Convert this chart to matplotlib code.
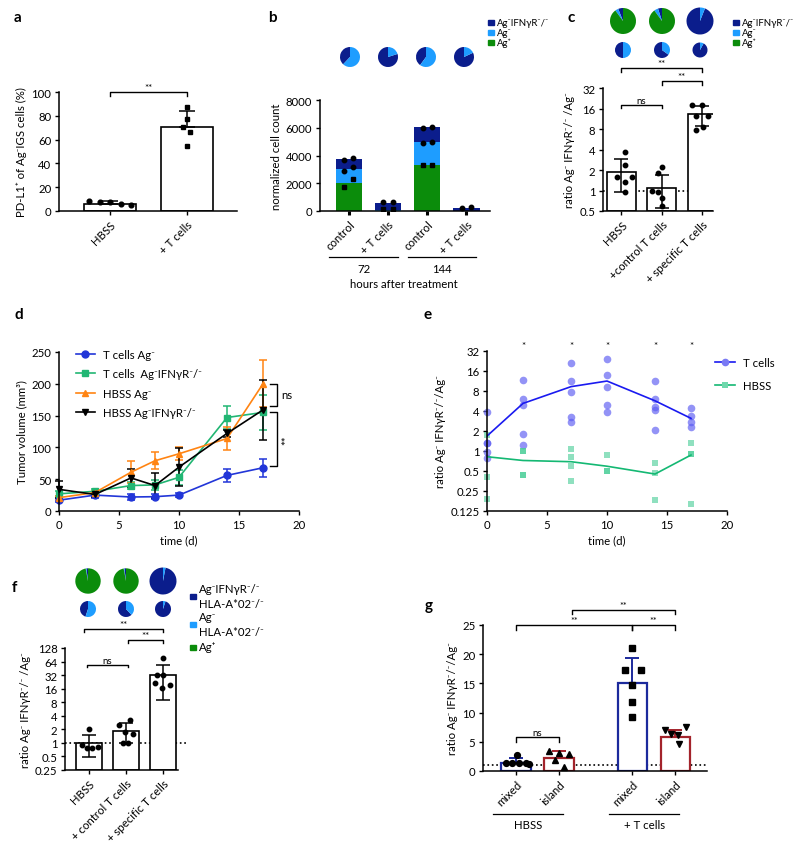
import matplotlib
matplotlib.use("Agg")
import matplotlib.pyplot as plt
from matplotlib.lines import Line2D
from matplotlib.patches import Rectangle
from matplotlib.ticker import FixedLocator, NullLocator

plt.rcParams['font.family'] = ['Lato', 'DejaVu Sans']
plt.rcParams['font.size'] = 8.2
plt.rcParams['axes.linewidth'] = 1.1
plt.rcParams['xtick.major.width'] = 1.0
plt.rcParams['ytick.major.width'] = 1.0
plt.rcParams['xtick.major.size'] = 3
plt.rcParams['ytick.major.size'] = 3
plt.rcParams['xtick.major.pad'] = 2.5
plt.rcParams['ytick.major.pad'] = 2.5

DARK = '#0b1d8c'
LIGHT = '#1e9dff'
GREEN = '#0b8c0b'
KO = 'Ag\u207bIFN\u03b3R\u207b/\u207b'
RATIO = 'ratio Ag\u207b IFN\u03b3R\u207b/\u207b /Ag\u207b'

# ---- panel a
a_groups = ['HBSS', '+ T cells']
a_means = [6, 71]
a_sd = [2, 13]
a_pts = [[8, 7.5, 7.5, 5.5, 5], [87, 77, 71, 66, 55]]
a_off = [[-0.27, -0.13, 0, 0.14, 0.27], [0, 0, -0.05, 0.04, 0]]

# ---- panel b
b_groups = ['control', '+ T cells', 'control', '+ T cells']
b_green = [2000, 0, 3300, 0]
b_light = [1050, 100, 1700, 30]
b_dark = [700, 500, 1050, 220]
b_pts = [[1700, 2300, 2900, 3200, 3650, 3850], [620, 620, 120, 120],
         [6000, 6050, 4900, 5000, 3300, 3320], [210, 260]]
b_off = [[-0.13, 0.11, -0.13, 0.11, -0.13, 0.11], [-0.12, 0.12, -0.12, 0.12],
         [-0.12, 0.12, -0.12, 0.12, -0.12, 0.12], [-0.12, 0.12]]
b_mark = [['s', 's', 'o', 'o', 'o', 'o'], ['o', 'o', 's', 's'],
          ['o', 'o', 'o', 'o', 's', 's'], ['o', 'o']]
b_hours = ['72', '144']
b_pie_dark = [0.38, 0.8, 0.4, 0.82]
b_pie_light = [0.62, 0.2, 0.6, 0.18]

# ---- panel c
c_groups = ['HBSS', '+control T cells', '+ specific T cells']
c_means = [1.9, 1.1, 13.1]
c_lo = [0.96, 0.55, 8.9]
c_hi = [2.9, 1.7, 17.4]
c_pts = [[3.7, 2.4, 1.6, 1.6, 1.35, 0.96], [2.25, 1.8, 1.0, 0.96, 0.77, 0.59],
         [17.8, 17.8, 12.4, 12.4, 7.7, 8.7]]
c_off = [[0.1, 0.1, -0.1, 0.27, 0.1, 0.1], [0.02, -0.1, -0.25, -0.1, 0.02, 0.02],
         [-0.25, 0, 0.15, -0.15, -0.15, 0.03]]
c_big = [[0.06, 0.04, 0.90], [0.05, 0.05, 0.90], [0.94, 0.06, 0.0]]   # dark, light, green
c_small = [[0.5, 0.5, 0], [0.65, 0.35, 0], [0.92, 0.08, 0]]

# ---- panel d
d_time = [0, 3, 6, 8, 10, 14, 17]
d_t_ag = [17, 25, 22, 22.5, 25, 56, 68]
d_t_ag_sd = [3, 5, 4, 4, 3, 10, 14]
d_t_ko = [27, 31, 40, 41, 53, 147, 155]
d_t_ko_sd = [4, 3, 5, 8, 12, 18, 27]
d_h_ag = [21, 29, 61, 79, 90, 114, 200]
d_h_ag_sd = [3, 3, 17, 13, 10, 18, 37]
d_h_ko = [34, 26, 52, 40, 69, 122, 159]
d_h_ko_sd = [13, 4, 14, 19, 30, 5, 47]

# ---- panel e
e_time = [0, 3, 7, 10, 14, 17]
e_t_pts = [[3.9, 1.3, 1.3, 0.97, 0.78], [11.7, 6.0, 5.0, 1.78, 1.23],
           [20.8, 11.5, 7.8, 3.3, 2.77], [24.5, 13.9, 9.3, 4.9, 3.8],
           [11.5, 6.0, 4.6, 4.1, 2.05], [4.5, 3.4, 2.77, 2.3]]
e_t_mean = [1.68, 5.2, 9.3, 11.3, 5.7, 3.1]
e_h_pts = [[1.72, 0.41, 0.19], [1.0, 1.0, 0.43, 0.43], [1.06, 0.81, 0.59, 0.35],
           [0.86, 0.5, 0.5], [0.67, 0.46, 0.18], [1.34, 0.89, 0.89, 0.16]]
e_h_mean = [0.82, 0.72, 0.69, 0.59, 0.45, 0.87]
e_star_t = [3, 7, 10, 14, 17]

# ---- panel f
f_groups = ['HBSS', '+ control T cells', '+ specific T cells']
f_means = [1.0, 1.8, 31.7]
f_lo = [0.49, 0.97, 8.8]
f_hi = [1.47, 2.7, 55]
f_pts = [[2.0, 0.89, 0.77, 0.77, 0.8], [3.2, 2.46, 1.75, 1.6, 1.0, 1.0],
         [78, 33, 32, 21.7, 19, 16.6]]
f_off = [[0, -0.19, -0.05, 0.08, 0.24], [0.1, -0.19, -0.03, 0.19, -0.08, 0.05],
         [0, -0.16, 0, -0.22, 0.19, -0.03]]
f_big = [[0.02, 0.01, 0.97], [0.02, 0.01, 0.97], [0.97, 0.03, 0.0]]
f_small = [[0.45, 0.55, 0], [0.62, 0.38, 0], [0.95, 0.05, 0]]

# ---- panel g
g_pos = [0, 1, 2.7, 3.7]
g_groups = ['mixed', 'island', 'mixed', 'island']
g_means = [1.43, 2.2, 15.0, 5.9]
g_sd = [0.75, 1.2, 4.4, 1.2]
g_pts = [[2.8, 1.4, 1.4, 1.4, 1.4, 1.2], [3.4, 3.0, 2.9, 1.9, 0.7],
         [21, 17.3, 17.3, 14.7, 11.9, 9.2], [7.0, 7.6, 6.3, 6.1, 4.6]]
g_off = [[0.02, -0.23, -0.09, 0.07, 0.23, 0.3], [-0.23, 0, 0.23, -0.09, 0.12],
         [0, -0.16, 0.2, 0, 0, 0], [-0.23, 0.26, -0.09, 0.07, 0.09]]
g_mark = ['o', '^', 's', 'v']
g_edge = ['#1c2a9c', '#a3232b', '#1c2a9c', '#a3232b']
g_treat = ['HBSS', '+ T cells']

W, H = 800, 845
fig = plt.figure(figsize=(8, 8.45), dpi=100)


def px_axes(x0, y0, x1, y1):
    return fig.add_axes([x0 / W, 1 - y1 / H, (x1 - x0) / W, (y1 - y0) / H])


def clean(ax):
    ax.spines['top'].set_visible(False)
    ax.spines['right'].set_visible(False)


def bracket(ax, x1, x2, y, ylow, text, fs=7):
    ax.plot([x1, x1, x2, x2], [ylow, y, y, ylow], color='k', lw=1.0, clip_on=False)
    ax.text((x1 + x2) / 2, y, text, ha='center', va='bottom', fontsize=fs)


def pie_at(cx, cy, r, vals):
    a = px_axes(cx - r, cy - r, cx + r, cy + r)
    a.pie(vals, colors=[DARK, LIGHT, GREEN], startangle=90, counterclock=True,
          radius=1, wedgeprops=dict(linewidth=0))
    a.set_xlim(-1, 1)
    a.set_ylim(-1, 1)
    a.axis('off')


def legend_box(x, ys, labels, colors, fs=8.2):
    for yy, lab, col in zip(ys, labels, colors):
        fig.patches.append(Rectangle((x / W, 1 - (yy + 2.5) / H), 6 / W, 5 / H,
                                     transform=fig.transFigure, color=col, figure=fig))
        fig.text((x + 9) / W, 1 - yy / H, lab, va='center', fontsize=fs,
                 linespacing=1.5)


def rot_labels(ax, pos, labels):
    ax.set_xticks(pos)
    ax.set_xticklabels(labels, rotation=45, ha='right', rotation_mode='anchor')


def panel_label(x, y, s):
    fig.text(x / W, 1 - y / H, s, fontsize=11, fontweight='bold', va='center')


# ================= a
ax = px_axes(59, 93, 237, 212)
clean(ax)
xa = range(len(a_groups))
ax.bar(xa, a_means, width=0.67, color='white', edgecolor='k', lw=1.2, zorder=1)
ax.errorbar(xa, a_means, yerr=[[0, 0], a_sd], fmt='none', ecolor='k', elinewidth=1.1,
            capsize=6, capthick=1.1, zorder=2)
ax.plot([0 + o for o in a_off[0]], a_pts[0], 'o', color='k', ms=3.4, zorder=3)
ax.plot([1 + o for o in a_off[1]], a_pts[1], 's', color='k', ms=3.4, zorder=3)
ax.set_xlim(-0.66, 1.65)
ax.set_ylim(0, 100)
ax.set_yticks([0, 20, 40, 60, 80, 100])
rot_labels(ax, list(xa), a_groups)
ax.set_ylabel('PD-L1\u207a of Ag\u207bIGS cells (%)', labelpad=3)
bracket(ax, 0, 1, 100, 97, '**')
panel_label(14, 18, 'a')

# ================= b
ax = px_axes(320, 101, 490, 212)
clean(ax)
xb = range(len(b_groups))
ax.bar(xb, b_green, width=0.67, color=GREEN, lw=0)
ax.bar(xb, b_light, width=0.67, bottom=b_green, color=LIGHT, lw=0)
ax.bar(xb, b_dark, width=0.67, bottom=[g + l for g, l in zip(b_green, b_light)],
       color=DARK, lw=0)
for i in xb:
    for v, o, m in zip(b_pts[i], b_off[i], b_mark[i]):
        ax.plot(i + o, v, m, color='k', ms=3.2, zorder=3)
ax.set_xlim(-0.74, 3.6)
ax.set_ylim(0, 8000)
ax.set_yticks([0, 2000, 4000, 6000, 8000])
rot_labels(ax, list(xb), b_groups)
ax.tick_params(axis='x', width=2.2, length=3)
ax.set_ylabel('normalized cell count', labelpad=3)
tr = ax.get_xaxis_transform()
for k, lab in enumerate(b_hours):
    x0, x1 = 2 * k - 0.5, 2 * k + 1.25
    ax.plot([x0, x1], [-0.415, -0.415], color='k', lw=0.9, transform=tr, clip_on=False)
    ax.text((x0 + x1) / 2, -0.47, lab, transform=tr, ha='center', va='top')
ax.text(1.4, -0.6, 'hours after treatment', transform=tr, ha='center', va='top')
for i, cx in enumerate([350, 388, 426, 464]):
    pie_at(cx, 58, 10, [b_pie_dark[i], b_pie_light[i], 0])
legend_box(488, [23, 33, 43], [KO, 'Ag\u207b', 'Ag\u207a'], [DARK, LIGHT, GREEN], fs=6.9)
panel_label(268, 18, 'b')

# ================= c
ax = px_axes(603, 89, 713, 212)
clean(ax)
ax.set_yscale('log', base=2)
xc = range(len(c_groups))
ax.bar(xc, [m - 0.5 for m in c_means], bottom=0.5, width=0.72, color='white',
       edgecolor='k', lw=1.2, zorder=1)
ax.errorbar(xc, c_means, yerr=[[m - l for m, l in zip(c_means, c_lo)],
                               [h - m for m, h in zip(c_means, c_hi)]],
            fmt='none', ecolor='k', elinewidth=1.1, capsize=5, capthick=1.1, zorder=2)
for i in xc:
    ax.plot([i + o for o in c_off[i]], c_pts[i], 'o', color='k', ms=3.2, zorder=3)
ax.axhline(1, color='k', ls=':', lw=1.2, zorder=0)
ax.set_xlim(-0.45, 2.27)
ax.set_ylim(0.5, 32)
ax.yaxis.set_major_locator(FixedLocator([0.5, 1, 2, 4, 8, 16, 32]))
ax.yaxis.set_minor_locator(NullLocator())
ax.set_yticklabels(['0.5', '1', '2', '4', '8', '16', '32'])
rot_labels(ax, list(xc), c_groups)
ax.set_ylabel(RATIO, labelpad=3)
bracket(ax, 0, 1, 18, 16.3, 'ns')
bracket(ax, 1, 2, 40, 35, '**')
bracket(ax, 0, 2, 62, 55, '**')
for i, cx in enumerate([623, 662, 700]):
    pie_at(cx, 22, 13.5 if i == 2 else 13, c_big[i])
    pie_at(cx, 51, 7.5 if i == 2 else 8, c_small[i])
legend_box(733, [23, 33, 43], [KO, 'Ag\u207b', 'Ag\u207a'], [DARK, LIGHT, GREEN], fs=6.9)
panel_label(568, 18, 'c')

# ================= d
ax = px_axes(59, 353, 299, 512)
clean(ax)
series = [(d_t_ag, d_t_ag_sd, '#2236d8', 'o', 'T cells Ag\u207b'),
          (d_t_ko, d_t_ko_sd, '#21b673', 's', 'T cells  ' + KO),
          (d_h_ag, d_h_ag_sd, '#ff8412', '^', 'HBSS Ag\u207b'),
          (d_h_ko, d_h_ko_sd, 'k', 'v', 'HBSS ' + KO)]
handles = []
for vals, sd, col, mk, lab in series:
    ax.errorbar(d_time, vals, yerr=sd, color=col, marker=mk, ms=5, lw=1.2,
                elinewidth=1.1, capsize=3, capthick=1.1, clip_on=False)
    handles.append(Line2D([], [], color=col, marker=mk, ms=5, lw=1.2, label=lab))
ax.set_xlim(0, 20)
ax.set_ylim(0, 250)
ax.set_xticks([0, 5, 10, 15, 20])
ax.set_yticks([0, 50, 100, 150, 200, 250])
ax.set_xlabel('time (d)', labelpad=3)
ax.set_ylabel('Tumor volume (mm\u00b3)', labelpad=3)
ax.legend(handles=handles, loc='upper left', bbox_to_anchor=(0.05, 1.05), frameon=False,
          handlelength=1.7, handletextpad=0.7, labelspacing=0.75, borderaxespad=0)
for x1, y1, y2, lab, rot in [(18.2, 200, 165, 'ns', 0), (18.2, 155, 71, '**', 90)]:
    ax.plot([17.6, x1, x1, 17.6], [y1, y1, y2, y2], color='k', lw=1.0, clip_on=False)
    ax.text(x1 + 0.35, (y1 + y2) / 2, lab, va='center', ha='left', rotation=rot)
panel_label(14, 315, 'd')

# ================= e
ax = px_axes(487, 352, 727, 512)
clean(ax)
ax.set_yscale('log', base=2)
for t, pts in zip(e_time, e_t_pts):
    ax.plot([t] * len(pts), pts, 'o', color='#5a5af2', alpha=0.65, ms=5.5, mew=0,
            clip_on=False)
for t, pts in zip(e_time, e_h_pts):
    ax.plot([t] * len(pts), pts, 's', color='#45cc95', alpha=0.6, ms=5, mew=0,
            clip_on=False)
ax.plot(e_time, e_t_mean, color='#1a1af0', lw=1.2)
ax.plot(e_time, e_h_mean, color='#14b873', lw=1.2)
ax.plot([], [], color='#1a1af0', lw=1.2, marker='o', ms=5.5, mfc='#7a7af4', mew=0,
        label='T cells')
ax.plot([], [], color='#14b873', lw=1.2, marker='s', ms=5, mfc='#6fd8ac', mew=0,
        label='HBSS')
for t in e_star_t:
    ax.text(t, 33, '*', ha='center', va='bottom', fontsize=7)
ax.set_xlim(0, 20)
ax.set_ylim(0.125, 32)
ticks_e = [0.125, 0.25, 0.5, 1, 2, 4, 8, 16, 32]
ax.yaxis.set_major_locator(FixedLocator(ticks_e))
ax.yaxis.set_minor_locator(NullLocator())
ax.set_yticklabels(['0.125', '0.25', '0.5', '1', '2', '4', '8', '16', '32'])
ax.set_xticks([0, 5, 10, 15, 20])
ax.set_xlabel('time (d)', labelpad=3)
ax.set_ylabel('ratio Ag\u207b IFN\u03b3R\u207b/\u207b/Ag\u207b', labelpad=3)
ax.legend(loc='upper left', bbox_to_anchor=(0.93, 0.99), frameon=False,
          handlelength=1.8, handletextpad=0.7, labelspacing=1.0, borderaxespad=0)
panel_label(423, 315, 'e')

# ================= f
ax = px_axes(65, 649, 178, 771)
clean(ax)
ax.set_yscale('log', base=2)
xf = range(len(f_groups))
ax.bar(xf, [m - 0.25 for m in f_means], bottom=0.25, width=0.7, color='white',
       edgecolor='k', lw=1.2, zorder=1)
ax.errorbar(xf, f_means, yerr=[[m - l for m, l in zip(f_means, f_lo)],
                               [h - m for m, h in zip(f_means, f_hi)]],
            fmt='none', ecolor='k', elinewidth=1.1, capsize=5, capthick=1.1, zorder=2)
for i in xf:
    ax.plot([i + o for o in f_off[i]], f_pts[i], 'o', color='k', ms=3.2, zorder=3,
            clip_on=False)
ax.axhline(1, xmax=1.09, color='k', ls=':', lw=1.2, zorder=0, clip_on=False)
ax.set_xlim(-0.65, 2.4)
ax.set_ylim(0.25, 128)
ax.yaxis.set_major_locator(FixedLocator([0.25, 0.5, 1, 2, 4, 8, 16, 32, 64, 128]))
ax.yaxis.set_minor_locator(NullLocator())
ax.set_yticklabels(['0.25', '0.5', '1', '2', '4', '8', '16', '32', '64', '128'])
rot_labels(ax, list(xf), f_groups)
ax.set_ylabel(RATIO, labelpad=3)
bracket(ax, -0.05, 1.05, 55, 48, 'ns')
bracket(ax, 1.05, 2.0, 193, 165, '**')
bracket(ax, -0.15, 2.0, 338, 290, '**')
for i, cx in enumerate([88, 126, 163]):
    pie_at(cx, 582, 13.5 if i == 2 else 12.7, f_big[i])
    pie_at(cx, 610, 8, f_small[i])
legend_box(190, [597, 625, 648],
           [KO + '\nHLA-A*02\u207b/\u207b', 'Ag\u207b\nHLA-A*02\u207b/\u207b', 'Ag\u207a'],
           [DARK, LIGHT, GREEN])
panel_label(12, 588, 'f')

# ================= g
ax = px_axes(483, 626, 707, 772)
clean(ax)
ax.bar(g_pos, g_means, width=0.68, color='white', edgecolor=g_edge, lw=1.6, zorder=1)
for i, p in enumerate(g_pos):
    ax.errorbar(p, g_means[i], yerr=[[0], [g_sd[i]]], fmt='none', ecolor=g_edge[i],
                elinewidth=1.4, capsize=5, capthick=1.4, zorder=2)
    ax.plot([p + o for o in g_off[i]], g_pts[i], g_mark[i], color='k', ms=4.2, zorder=3)
ax.axhline(1, color='k', ls=':', lw=1.2, zorder=0)
ax.set_xlim(-0.77, 4.44)
ax.set_ylim(0, 25)
ax.set_yticks([0, 5, 10, 15, 20, 25])
rot_labels(ax, g_pos, g_groups)
ax.set_ylabel('ratio Ag\u207b IFN\u03b3R\u207b/\u207b/Ag\u207b', labelpad=3)
bracket(ax, 0, 1, 5.8, 5.0, 'ns')
bracket(ax, 0, 2.7, 25, 24.2, '**', fs=6.5)
bracket(ax, 2.7, 3.7, 25, 24.2, '**', fs=6.5)
bracket(ax, 1.3, 3.7, 27.6, 26.8, '**', fs=6.5)
tr = ax.get_xaxis_transform()
for k, lab in enumerate(g_treat):
    x0, x1 = g_pos[2 * k] - 0.53, g_pos[2 * k + 1] + 0.1
    ax.plot([x0, x1], [-0.295, -0.295], color='k', lw=0.9, transform=tr, clip_on=False)
    ax.text((x0 + x1) / 2, -0.33, lab, transform=tr, ha='center', va='top')
panel_label(425, 606, 'g')

fig.savefig('out.png', dpi=100)
